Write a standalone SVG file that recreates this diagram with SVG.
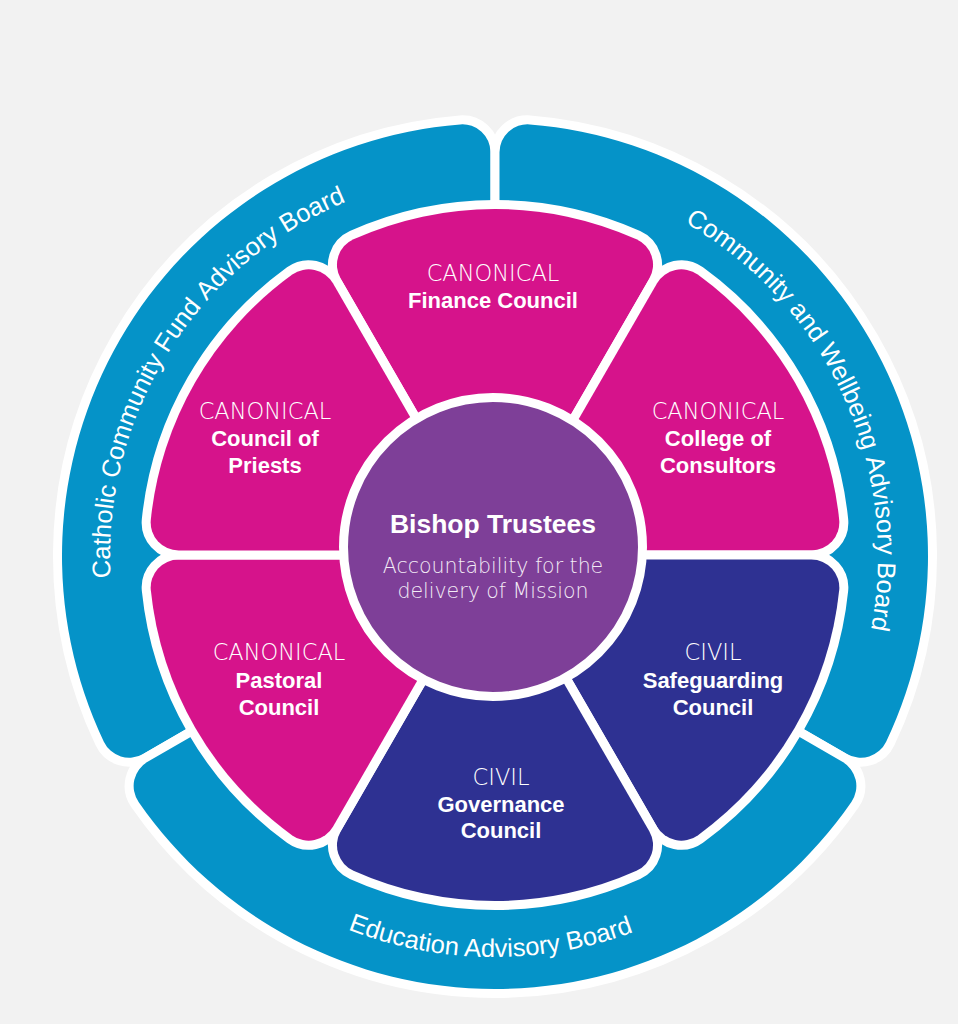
<svg xmlns="http://www.w3.org/2000/svg" width="958" height="1024" viewBox="0 0 958 1024">
<defs>
<style>
.bg{fill:#f2f2f2}
.ring{fill:#0593c8;stroke:#fff;stroke-width:18;paint-order:stroke;stroke-linejoin:round}
.pk{fill:#d6138b;stroke:#fff;stroke-width:18;paint-order:stroke;stroke-linejoin:round}
.nv{fill:#2e3192;stroke:#fff;stroke-width:18;paint-order:stroke;stroke-linejoin:round}
.hub{fill:#7e3f98;stroke:#fff;stroke-width:9}
.lt{font-family:"DejaVu Sans","Liberation Sans",sans-serif;font-weight:200;font-size:22.5px;fill:#fff;text-anchor:middle}
.bd{font-family:"Liberation Sans",Arial,sans-serif;font-weight:700;font-size:22px;fill:#fff;text-anchor:middle}
.hb{font-family:"Liberation Sans",Arial,sans-serif;font-weight:700;font-size:26.5px;fill:#fff;text-anchor:middle}
.hs{font-family:"DejaVu Sans","Liberation Sans",sans-serif;font-weight:200;font-size:20.5px;fill:#f3ecf6;text-anchor:middle}
.arc{font-family:"Liberation Sans",Arial,sans-serif;font-size:25.5px;fill:#fff}
</style>
<path id="petal" d="M 0 -9 L 154.27 -276.2 A 28 28 0 0 0 141.47 -315.75 A 346 346 0 0 0 -141.47 -315.75 A 28 28 0 0 0 -154.27 -276.2 Z"/>
<path id="seg" d="M 257.53 -153.88 L 347.35 -205.74 A 28 28 0 0 0 356.4 -245.9 A 433 433 0 0 0 -356.4 -245.9 A 28 28 0 0 0 -347.35 -205.74 L -257.53 -153.88 A 300 300 0 0 1 257.53 -153.88 Z"/>
<path id="arcCath" d="M 191.4 792.4 A 384 384 0 0 1 573.8 180.4" fill="none"/>
<path id="arcComm" d="M 463.2 173.2 A 384 384 0 0 1 763.6 829.4" fill="none"/>
<path id="arcEdu" d="M 116 689.9 A 401 401 0 0 0 869.6 696.4" fill="none"/>
</defs>
<rect class="bg" x="0" y="0" width="958" height="1024"/>

<g id="catholic-community-fund-advisory-board">
<use href="#seg" class="ring" transform="translate(495 556) rotate(-60)"/>
<text class="arc"><textPath href="#arcCath" startOffset="232.5">Catholic</textPath></text>
<text class="arc"><textPath href="#arcCath" startOffset="331.7">Community</textPath></text>
<text class="arc"><textPath href="#arcCath" startOffset="467.7">Fund</textPath></text>
<text class="arc"><textPath href="#arcCath" startOffset="532.9">Advisory</textPath></text>
<text class="arc"><textPath href="#arcCath" startOffset="637.8">Board</textPath></text>
</g>
<g id="community-and-wellbeing-advisory-board">
<use href="#seg" class="ring" transform="translate(495 556) rotate(60)"/>
<text class="arc"><textPath href="#arcComm" startOffset="230.4">Community</textPath></text>
<text class="arc"><textPath href="#arcComm" startOffset="366.4">and</textPath></text>
<text class="arc"><textPath href="#arcComm" startOffset="416">Wellbeing</textPath></text>
<text class="arc"><textPath href="#arcComm" startOffset="535">Advisory</textPath></text>
<text class="arc"><textPath href="#arcComm" startOffset="639.9">Board</textPath></text>
</g>
<g id="education-advisory-board">
<use href="#seg" class="ring" transform="translate(495 556) rotate(180)"/>
<text class="arc"><textPath href="#arcEdu" startOffset="50%" text-anchor="middle">Education Advisory Board</textPath></text>
</g>

<g id="finance-council">
<use href="#petal" class="pk" transform="translate(495 555)"/>
<text class="lt" x="493" y="281">CANONICAL</text>
<text class="bd" x="493" y="308">Finance Council</text>
</g>
<g id="college-of-consultors">
<use href="#petal" class="pk" transform="translate(495 555) rotate(60)"/>
<text class="lt" x="718" y="419">CANONICAL</text>
<text class="bd" x="718" y="446">College of</text>
<text class="bd" x="718" y="473">Consultors</text>
</g>
<g id="safeguarding-council">
<use href="#petal" class="nv" transform="translate(495 555) rotate(120)"/>
<text class="lt" x="713" y="660">CIVIL</text>
<text class="bd" x="713" y="688">Safeguarding</text>
<text class="bd" x="713" y="715">Council</text>
</g>
<g id="governance-council">
<use href="#petal" class="nv" transform="translate(495 555) rotate(180)"/>
<text class="lt" x="501" y="785">CIVIL</text>
<text class="bd" x="501" y="812">Governance</text>
<text class="bd" x="501" y="838">Council</text>
</g>
<g id="pastoral-council">
<use href="#petal" class="pk" transform="translate(495 555) rotate(240)"/>
<text class="lt" x="279" y="660">CANONICAL</text>
<text class="bd" x="279" y="688">Pastoral</text>
<text class="bd" x="279" y="715">Council</text>
</g>
<g id="council-of-priests">
<use href="#petal" class="pk" transform="translate(495 555) rotate(300)"/>
<text class="lt" x="265" y="419">CANONICAL</text>
<text class="bd" x="265" y="446">Council of</text>
<text class="bd" x="265" y="473">Priests</text>
</g>

<g id="bishop-trustees">
<circle class="hub" cx="493" cy="547" r="149.5"/>
<text class="hb" x="493" y="533">Bishop Trustees</text>
<text class="hs" x="493" y="573">Accountability for the</text>
<text class="hs" x="493" y="598">delivery of Mission</text>
</g>
<g id="connectors"></g>
</svg>
